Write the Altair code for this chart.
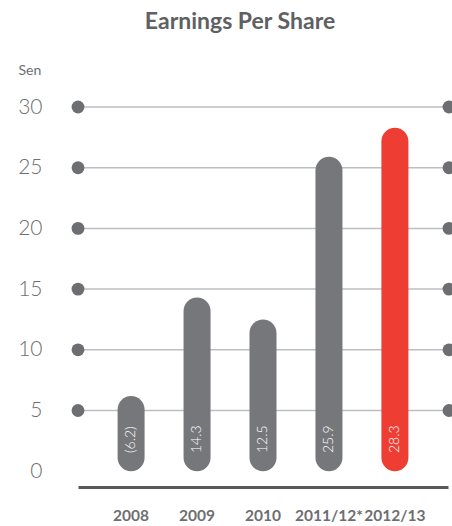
import altair as alt
import pandas as pd

years = ["2008", "2009", "2010", "2011/12*", "2012/13"]
eps = [-6.2, 14.3, 12.5, 25.9, 28.3]
highlight = [False, False, False, False, True]
y_ticks = [0, 5, 10, 15, 20, 25, 30]
grid_ticks = [5, 10, 15, 20, 25, 30]

GRAY = "#76777a"
RED = "#ee3e34"
TEXT = "#6d6e71"

df = pd.DataFrame({
    "year": years,
    "eps": eps,
    "height": [abs(v) for v in eps],
    "label": [f"({abs(v):.1f})" if v < 0 else f"{v:.1f}" for v in eps],
    "hl": highlight,
})
df["lab_y"] = 1.5
dots = pd.DataFrame({"t": grid_ticks})

W, H = 370, 380
xscale = alt.Scale(domain=years, paddingInner=0.59, paddingOuter=0.6)
yscale = alt.Scale(domain=[-1.3, 30], nice=False, zero=False)

x_enc = alt.X("year:N", scale=xscale, sort=years, axis=alt.Axis(
    title=None, labelAngle=0, ticks=False, domain=True, domainColor="#58595b",
    domainWidth=3, labelFont="Lato", labelFontWeight="bold", labelFontSize=15.5,
    labelColor=TEXT, labelPadding=21, labelBaseline="top"))

bars = alt.Chart(df).mark_bar(cornerRadius=13.5, width=27).encode(
    x=x_enc,
    y=alt.Y("height:Q", scale=yscale, axis=alt.Axis(
        values=y_ticks, ticks=False, domain=False, grid=False,
        labelFont="Lato", labelFontWeight=300, labelFontSize=21, labelColor=TEXT,
        labelPadding=36, labelAlign="right", labelBaseline="middle",
        title="Sen", titleAngle=0, titleAlign="left", titleBaseline="alphabetic",
        titleX=-60, titleY=-33, titleFont="Lato", titleFontWeight="normal",
        titleFontSize=14, titleColor=TEXT)),
    y2=alt.datum(0),
    color=alt.Color("hl:N", scale=alt.Scale(domain=[False, True], range=[GRAY, RED]), legend=None),
)

grid = alt.Chart(dots).mark_rule(color="#bcbec0", strokeWidth=1.5).encode(
    y=alt.Y("t:Q", scale=yscale),
    x=alt.value(0), x2=alt.value(W),
)
dots_l = alt.Chart(dots).mark_circle(size=165, opacity=1, color=TEXT).encode(
    y=alt.Y("t:Q", scale=yscale), x=alt.value(0))
dots_r = alt.Chart(dots).mark_circle(size=165, opacity=1, color=TEXT).encode(
    y=alt.Y("t:Q", scale=yscale), x=alt.value(W + 1))

labels = alt.Chart(df).mark_text(angle=270, align="left", baseline="middle",
                                 color="white", font="Lato", fontSize=14,
                                 fontWeight=300).encode(
    x=alt.X("year:N", scale=xscale, sort=years),
    y=alt.Y("lab_y:Q", scale=yscale),
    text="label:N",
)

chart = alt.layer(grid, dots_l, dots_r, bars, labels).properties(
    width=W, height=H,
    padding={"left": 78, "top": 107, "right": 4, "bottom": 39},
    autosize=alt.AutoSizeParams(type="none"),
    title=alt.TitleParams("Earnings Per Share", font="Lato", fontSize=23,
                          fontWeight="bold", color="#5f6062", anchor="middle",
                          dx=-23, offset=29),
).configure_view(stroke=None)

chart.save("out.html", embed_options={"renderer": "svg", "actions": False})
